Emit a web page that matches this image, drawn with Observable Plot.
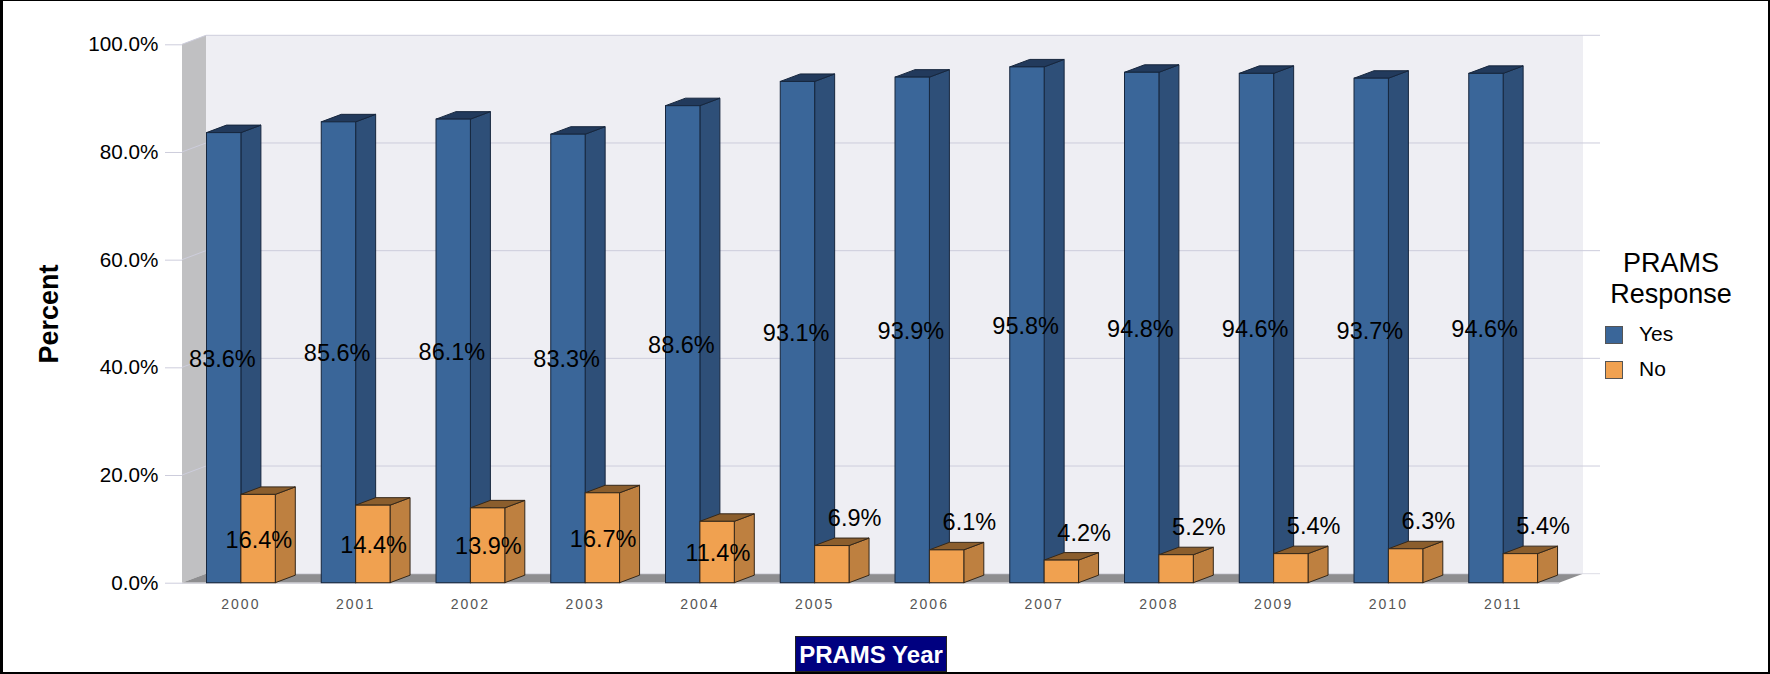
<!DOCTYPE html>
<html>
<head>
<meta charset="utf-8">
<script src="https://cdn.jsdelivr.net/npm/d3@7"></script>
<script src="https://cdn.jsdelivr.net/npm/@observablehq/plot@0.6"></script>
<style>
  html, body { margin: 0; padding: 0; background: #fff; overflow: hidden; }
  body { position: relative; width: 1770px; height: 674px; font-family: "Liberation Sans", Arial, sans-serif; }
  svg { display: block; }
  svg [aria-label="x-axis tick label"] text { letter-spacing: 2px; }
  #frame { position: absolute; inset: 0; box-sizing: border-box; border-style: solid; border-color: #000; border-width: 1px 2px 2px 3px; pointer-events: none; }
  #xtitle { position: absolute; left: 795px; top: 636px; width: 152px; height: 36px; box-sizing: border-box; border: 1px solid #222; background: #000080; color: #fff; font-weight: bold; font-size: 24px; line-height: 36px; text-align: center; white-space: nowrap; }
  #legend { position: absolute; left: 1601px; top: 248px; width: 140px; color: #000; }
  #legend .t { position: absolute; left: 0; top: 0; width: 140px; text-align: center; font-size: 27px; line-height: 31px; }
  #legend .s { position: absolute; left: 4px; width: 18px; height: 18px; box-sizing: border-box; border: 1px solid #555; }
  #legend .l { position: absolute; left: 38px; font-size: 21px; line-height: 20px; }
</style>
</head>
<body>
<script>
const years = ["2000","2001","2002","2003","2004","2005","2006","2007","2008","2009","2010","2011"];
const yesValues = [83.6,85.6,86.1,83.3,88.6,93.1,93.9,95.8,94.8,94.6,93.7,94.6];
const noValues = [16.4,14.4,13.9,16.7,11.4,6.9,6.1,4.2,5.2,5.4,6.3,5.4];
const seriesNames = ["Yes","No"];
const frontColors = ["#3A6699","#F0A150"];
const sideColors = ["#2E4F78","#BE8040"];
const topColors = ["#223A5C","#8B5E2D"];
const edgeColors = ["#16263D","#33271A"];
const yTicks = [0,20,40,60,80,100];

const fmt = d => d.toFixed(1) + "%";
const rows = s => years.map((year,i) => ({year, value:(s === 0 ? yesValues : noValues)[i], s, name: seriesNames[s]}));
const yes = rows(0), no = rows(1), all = [...yes, ...no];

// layout constants of the pseudo-3D box, in pixels
const W = {dx:24, dy:-9, over:17};
const B = {dx:20, dy:-7.5, left:24.5, w:34.4};
const SVGNS = "http://www.w3.org/2000/svg";

function polygon(g, pts, fill, stroke, sw) {
  const p = document.createElementNS(SVGNS,"polygon");
  p.setAttribute("points", pts.map(d => d.join(",")).join(" "));
  p.setAttribute("fill", fill);
  if (stroke) { p.setAttribute("stroke", stroke); p.setAttribute("stroke-width", sw ?? 1); p.setAttribute("stroke-linejoin","round"); } else p.setAttribute("stroke","none");
  g.appendChild(p);
}
function line(g, a, b, stroke, sw) {
  const p = document.createElementNS(SVGNS,"line");
  p.setAttribute("x1",a[0]);p.setAttribute("y1",a[1]);p.setAttribute("x2",b[0]);p.setAttribute("y2",b[1]);
  p.setAttribute("stroke",stroke);p.setAttribute("stroke-width",sw ?? 1);
  g.appendChild(p);
}

// walls + floor + gridlines, positioned through the chart's scales
const walls = (index, {x, y}) => {
  const g = document.createElementNS(SVGNS,"g");
  const [x0,x1] = x.range(), y0 = y(0), y1 = y(100);
  const {dx,dy,over} = W;
  polygon(g, [[x0+dx,y1+dy],[x1+dx,y1+dy],[x1+dx,y0+dy],[x0+dx,y0+dy]], "#EEEEF3");
  polygon(g, [[x0,y1],[x0+dx,y1+dy],[x0+dx,y0+dy],[x0,y0]], "#C0C0C2");
  polygon(g, [[x0,y0],[x0+dx,y0+dy],[x1+dx,y0+dy],[x1,y0]], "#8E8E90");
  for (const t of yTicks) {
    const c = t === 0 ? "#DDDDE6" : "#CDCDDC", yy = y(t);
    if (t > 0) line(g,[x0,yy],[x0+dx,yy+dy],c,1);
    line(g,[x0+dx,yy+dy],[x1+dx+over,yy+dy],c,1);
  }
  line(g,[x0,y0+0.5],[x1,y0+0.5],"#D5D5DC",1.5);
  return g;
};

// side and top faces of every bar
const faces = (index, {x, y}) => {
  const g = document.createElementNS(SVGNS,"g");
  for (const d of all) {
    const l = x(d.year) + B.left + d.s * B.w, r = l + B.w, yt = y(d.value), yb = y(0);
    const e = edgeColors[d.s];
    polygon(g, [[r,yb],[r+B.dx,yb+B.dy],[r+B.dx,yt+B.dy],[r,yt]], sideColors[d.s], e, 1);
    polygon(g, [[l,yt],[l+B.dx,yt+B.dy],[r+B.dx,yt+B.dy],[r,yt]], topColors[d.s], e, 1);
  }
  return g;
};

const step = (1559-182)/12;
const inset = s => ({insetLeft: B.left + s*B.w, insetRight: step - B.left - (s+1)*B.w});
const small = 10;

const plot = Plot.plot({
  width: 1770, height: 674,
  marginTop: 44.3, marginBottom: 91.3, marginLeft: 182, marginRight: 211,
  style: {fontFamily: '"Liberation Sans", Arial, sans-serif', background: "transparent", overflow: "visible"},
  x: {type:"band", domain: years, padding: 0, round: false, label: null},
  y: {domain:[0,100], label:null},
  color: {domain: seriesNames, range: frontColors},
  marks: [
    walls,
    Plot.axisY({ticks: yTicks, tickFormat: fmt, tickSize: 17, tickPadding: 7, fontSize: 20.7, stroke: "#CDCDDC", color:"#000", label: null}),
    Plot.axisX({tickSize: 0, tickPadding: 16, fontSize: 14, fill:"#555", dx: 1, label: null}),
    faces,
    Plot.barY(yes, {x:"year", y:"value", fill:"name", stroke: edgeColors[0], strokeWidth:1, ...inset(0)}),
    Plot.barY(no, {x:"year", y:"value", fill:"name", stroke: edgeColors[1], strokeWidth:1, ...inset(1)}),
    Plot.text(yes, {x:"year", y: d => d.value/2, text: d => fmt(d.value), dx: -17.5, dy: 1, fontSize: 23.5, fill:"#000"}),
    Plot.text(no.filter(d => d.value >= small), {x:"year", y: d => d.value/2, text: d => fmt(d.value), dx: 19, dy: 1, fontSize: 23.5, fill:"#000"}),
    Plot.text(no.filter(d => d.value < small), {x:"year", y:"value", text: d => fmt(d.value), dx: 41, dy:-27.5, fontSize: 23.5, fill:"#000"}),
    Plot.text(["Percent"], {frameAnchor:"left", textAnchor:"middle", rotate:-90, dx:-133, fontSize: 27, fontWeight:"bold", fill:"#000"})
  ]
});
document.body.appendChild(plot);

const mk = (cls, css, txt) => { const e = document.createElement("div"); if (cls) e.className = cls; if (css) e.style.cssText = css; if (txt) e.innerHTML = txt; return e; };
const xt = mk(null,null,"PRAMS Year"); xt.id = "xtitle"; document.body.appendChild(xt);
const lg = mk(); lg.id = "legend";
lg.appendChild(mk("t","","PRAMS<br>Response"));
seriesNames.forEach((n,i) => {
  const top = 78 + i*35;
  lg.appendChild(mk("s",`top:${top}px;background:${frontColors[i]}`));
  lg.appendChild(mk("l",`top:${top-2}px`,n));
});
document.body.appendChild(lg);
const fr = mk(); fr.id = "frame"; document.body.appendChild(fr);
</script>
</body>
</html>
